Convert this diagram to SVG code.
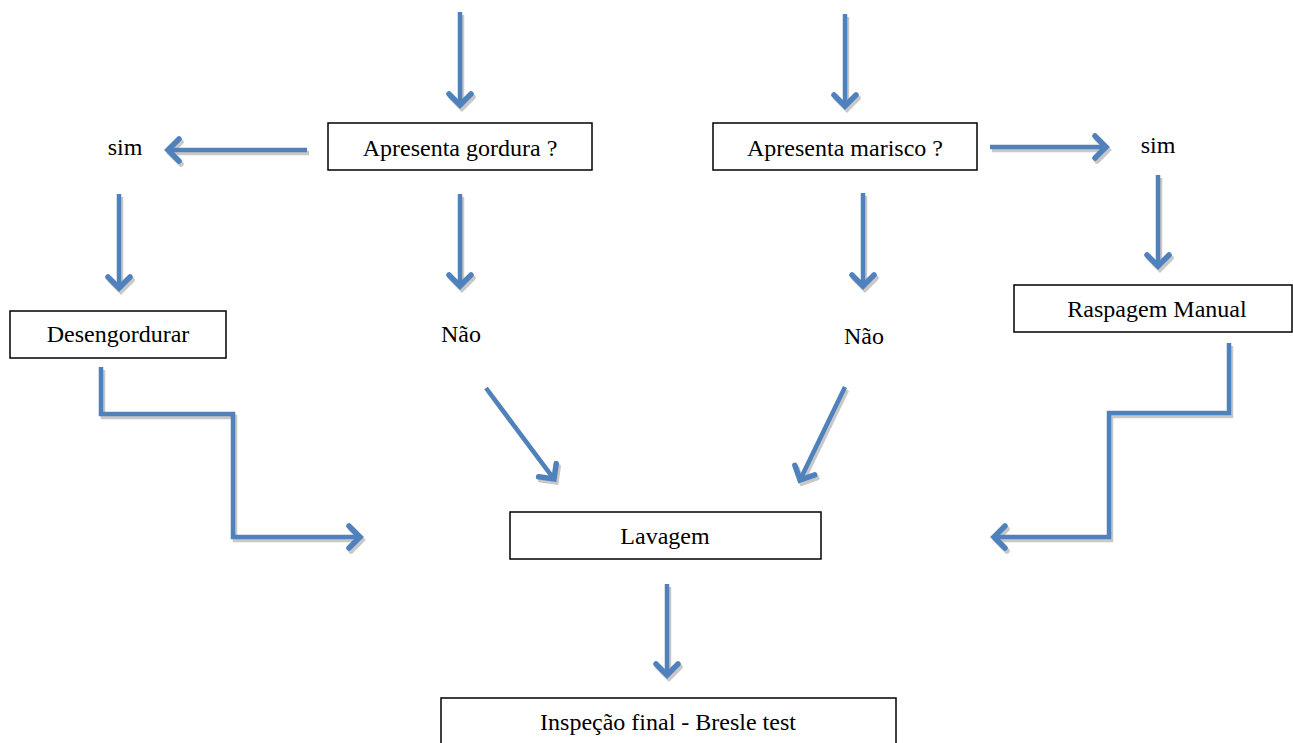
<svg xmlns="http://www.w3.org/2000/svg" xmlns:xlink="http://www.w3.org/1999/xlink" width="1293" height="743" viewBox="0 0 1293 743">
<style>
.box{fill:#fff;stroke:#000;stroke-width:1.5}
.t{font-family:'Liberation Serif','DejaVu Serif',serif;font-size:24px;fill:#000;text-anchor:middle}
.c{fill:none;stroke:#4F81BD;stroke-width:4.5;stroke-linejoin:miter;marker-end:url(#ab)}
.s{fill:none;stroke:#C8C8C8;stroke-width:4.5;stroke-linejoin:miter;marker-end:url(#ag)}
</style>
<defs>
<marker id="ab" markerUnits="userSpaceOnUse" viewBox="-16 -16 32 32" markerWidth="32" markerHeight="32" refX="0" refY="0" orient="auto" overflow="visible">
<path d="M-11,-11 L0,0 L-11,11" fill="none" stroke="#4F81BD" stroke-width="5.5" stroke-linecap="round" stroke-linejoin="miter"/>
</marker>
<marker id="ag" markerUnits="userSpaceOnUse" viewBox="-16 -16 32 32" markerWidth="32" markerHeight="32" refX="0" refY="0" orient="auto" overflow="visible">
<path d="M-11,-11 L0,0 L-11,11" fill="none" stroke="#C8C8C8" stroke-width="5.5" stroke-linecap="round" stroke-linejoin="miter"/>
</marker>
<path id="p1" d="M460,12 V105"/>
<path id="p2" d="M845,14 V106"/>
<path id="p3" d="M307,150 H168"/>
<path id="p4" d="M990,147 H1106"/>
<path id="p5" d="M119,194 V288"/>
<path id="p6" d="M460,194 V286"/>
<path id="p7" d="M863,193 V286"/>
<path id="p8" d="M1158,175 V266"/>
<path id="p9" d="M101,367 V414 H233 V537 H360"/>
<path id="p10" d="M1229,343 V413 H1109 V537 H994"/>
<path id="p11" d="M486,388 L554,479"/>
<path id="p12" d="M845,387 L800,480"/>
<path id="p13" d="M667,584 V675"/>
</defs>
<g id="connectors">
<g transform="translate(2,3)">
<use xlink:href="#p1" class="s"/><use xlink:href="#p2" class="s"/><use xlink:href="#p3" class="s"/><use xlink:href="#p4" class="s"/><use xlink:href="#p5" class="s"/><use xlink:href="#p6" class="s"/><use xlink:href="#p7" class="s"/><use xlink:href="#p8" class="s"/><use xlink:href="#p9" class="s"/><use xlink:href="#p10" class="s"/><use xlink:href="#p11" class="s"/><use xlink:href="#p12" class="s"/><use xlink:href="#p13" class="s"/>
</g>
<use xlink:href="#p1" class="c"/><use xlink:href="#p2" class="c"/><use xlink:href="#p3" class="c"/><use xlink:href="#p4" class="c"/><use xlink:href="#p5" class="c"/><use xlink:href="#p6" class="c"/><use xlink:href="#p7" class="c"/><use xlink:href="#p8" class="c"/><use xlink:href="#p9" class="c"/><use xlink:href="#p10" class="c"/><use xlink:href="#p11" class="c"/><use xlink:href="#p12" class="c"/><use xlink:href="#p13" class="c"/>
</g>
<g id="gordura"><rect class="box" x="328" y="123" width="264" height="47"/><text class="t" x="460" y="156">Apresenta gordura ?</text></g>
<g id="marisco"><rect class="box" x="713" y="123" width="264" height="47"/><text class="t" x="845" y="156">Apresenta marisco ?</text></g>
<g id="sim1"><text class="t" x="125" y="155">sim</text></g>
<g id="sim2"><text class="t" x="1158" y="153">sim</text></g>
<g id="nao1"><text class="t" x="461" y="342">Não</text></g>
<g id="nao2"><text class="t" x="864" y="344">Não</text></g>
<g id="desengordurar"><rect class="box" x="10" y="311" width="216" height="47"/><text class="t" x="118" y="342">Desengordurar</text></g>
<g id="raspagem"><rect class="box" x="1014" y="285" width="278" height="47"/><text class="t" x="1157" y="317">Raspagem Manual</text></g>
<g id="lavagem"><rect class="box" x="510" y="512" width="311" height="47"/><text class="t" x="665" y="544">Lavagem</text></g>
<g id="inspecao"><rect class="box" x="441" y="698" width="455" height="60"/><text class="t" x="668" y="730">Inspeção final - Bresle test</text></g>
</svg>
